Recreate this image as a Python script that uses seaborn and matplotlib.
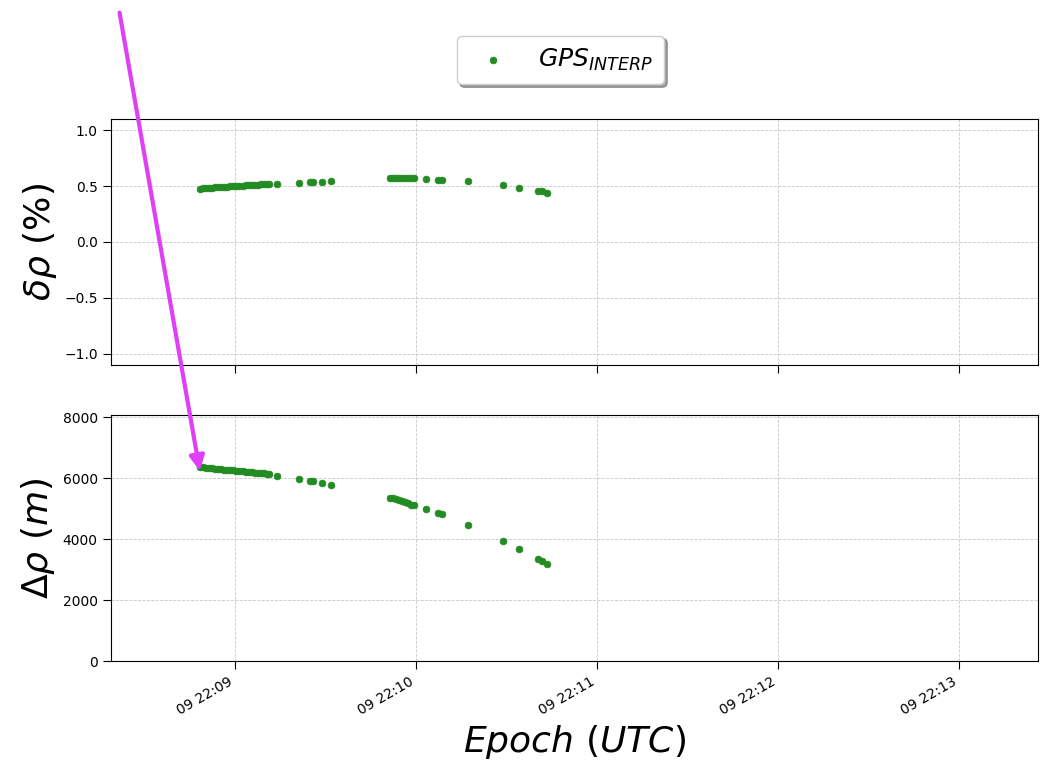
import matplotlib
matplotlib.use('Agg')
import matplotlib.pyplot as plt
import matplotlib.dates as mdates
import pandas as pd
import seaborn as sns

# -----------------------------
# Data (seconds after 22:09:00)
# -----------------------------
t_ref = pd.Timestamp("2020-01-09 22:09:00")

t_sec = [-11.5, -10.5, -9.5, -8.5, -7.5, -6.5, -5.5, -4.5, -3.5, -2.5, -1.5, -0.5,
         0.5, 1.5, 2.5, 3.5, 4.5, 5.5, 6.5, 7.5, 8.5, 9.5, 10.5, 11.2,
         13.9, 21.2, 24.9, 25.9, 28.8, 31.8,
         51.5, 52.5, 53.5, 54.5, 55.5, 56.5, 57.5, 58.5, 59.5,
         63.3, 67.3, 68.6, 77.2, 88.8, 94.1, 100.4, 101.8, 103.4]

# relative error (%)
delta_rho_pct = [0.478, 0.480, 0.482, 0.484, 0.486, 0.488, 0.490, 0.492, 0.494, 0.496, 0.498, 0.500,
                 0.502, 0.504, 0.505, 0.507, 0.509, 0.511, 0.512, 0.514, 0.516, 0.517, 0.519, 0.520,
                 0.522, 0.530, 0.535, 0.536, 0.538, 0.545,
                 0.568, 0.569, 0.569, 0.570, 0.570, 0.570, 0.570, 0.570, 0.569,
                 0.566, 0.556, 0.553, 0.545, 0.512, 0.483, 0.458, 0.452, 0.442]

# absolute error (m)
Delta_rho_m = [6370, 6360, 6350, 6340, 6330, 6320, 6310, 6300, 6290, 6280, 6270, 6260,
               6250, 6240, 6230, 6220, 6210, 6200, 6190, 6180, 6170, 6160, 6150, 6145,
               6090, 5990, 5920, 5900, 5860, 5790,
               5370, 5340, 5310, 5280, 5250, 5210, 5180, 5140, 5110,
               5000, 4870, 4840, 4470, 3950, 3680, 3350, 3290, 3190]

df = pd.DataFrame({
    "Epoch": t_ref + pd.to_timedelta(t_sec, unit="s"),
    "rel": delta_rho_pct,
    "abs": Delta_rho_m,
})

# -----------------------------
# Plot
# -----------------------------
fig = plt.figure(figsize=(10.48, 7.61), dpi=100)
ax1 = fig.add_axes([0.1059, 0.5204, 0.8846, 0.3232])
ax2 = fig.add_axes([0.1059, 0.1314, 0.8846, 0.3232], sharex=ax1)

green = "forestgreen"
sns.scatterplot(data=df, x="Epoch", y="rel", ax=ax1, color=green, s=24,
                edgecolor=green, linewidth=0.5, label=r"$GPS_{INTERP}$", legend=False)
sns.scatterplot(data=df, x="Epoch", y="abs", ax=ax2, color=green, s=24,
                edgecolor=green, linewidth=0.5, legend=False)

for ax in (ax1, ax2):
    ax.set_axisbelow(True)
    ax.grid(True, linestyle="--", linewidth=0.6, color="#c8c8c8")
    ax.tick_params(length=6)
    ax.set_xlabel("")

ax1.set_ylim(-1.1, 1.1)
ax1.set_yticks([-1.0, -0.5, 0.0, 0.5, 1.0])
ax2.set_ylim(0, 8080)
ax2.set_yticks([0, 2000, 4000, 6000, 8000])

ax1.set_ylabel(r"$\delta\rho\ (\%)$", fontsize=26)
ax2.set_ylabel(r"$\Delta\rho\ (m)$", fontsize=26)
ax2.set_xlabel(r"$Epoch\ (UTC)$", fontsize=26)

ax2.set_xlim(pd.Timestamp("2020-01-09 22:08:18.9"), pd.Timestamp("2020-01-09 22:13:26.2"))
ax2.xaxis.set_major_locator(mdates.MinuteLocator())
ax2.xaxis.set_major_formatter(mdates.DateFormatter("%d %H:%M"))
plt.setp(ax1.get_xticklabels(), visible=False)
plt.setp(ax2.get_xticklabels(), rotation=30, ha="right")

handles, labels = ax1.get_legend_handles_labels()
fig.legend(handles, labels, loc="center", bbox_to_anchor=(0.535, 0.921),
           fontsize=18, shadow=True, fancybox=True, borderpad=0.45)

# arrow pointing to first interpolated point
ax2.annotate("", xy=(df["Epoch"].iloc[0], df["abs"].iloc[0] - 220),
             xytext=(0.1136, 0.987), textcoords="figure fraction",
             arrowprops=dict(arrowstyle="-|>", color="#e040f5", lw=3, mutation_scale=22),
             annotation_clip=False)

plt.savefig("out.png", dpi=100)
plt.close()
